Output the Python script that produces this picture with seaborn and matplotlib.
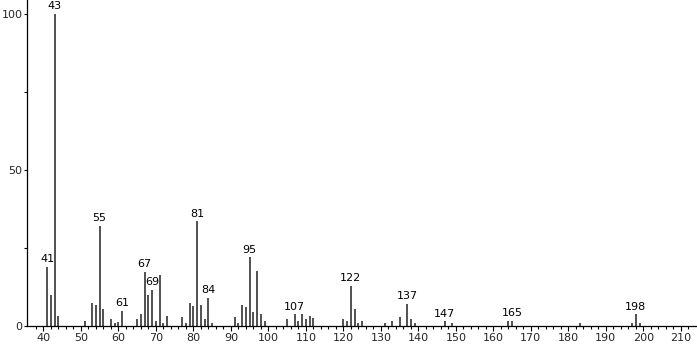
import matplotlib
matplotlib.use("Agg")
import matplotlib.pyplot as plt
import seaborn as sns
import numpy as np

# m/z values and relative intensities
mz = [41, 42, 43, 44, 51, 53, 54, 55, 56, 58, 59, 60, 61,
      65, 66, 67, 68, 69, 70, 71, 72, 73,
      77, 78, 79, 80, 81, 82, 83, 84, 85,
      91, 92, 93, 94, 95, 96, 97, 98, 99,
      105, 107, 108, 109, 110, 111, 112,
      120, 121, 122, 123, 124, 125,
      131, 133, 135, 137, 138, 139,
      147, 149, 164, 165, 183, 197, 198, 199]
intensity = [19.0, 10.0, 100.0, 3.2, 1.7, 7.5, 6.7, 32.0, 5.6, 2.1, 1.1, 1.2, 4.9,
             2.2, 3.8, 17.3, 10.0, 11.5, 1.7, 16.2, 0.9, 3.3,
             2.8, 0.9, 7.5, 6.3, 33.5, 6.8, 2.2, 8.9, 1.1,
             2.8, 0.9, 6.7, 6.0, 22.0, 4.4, 17.6, 3.7, 1.7,
             2.1, 3.7, 1.6, 3.7, 2.2, 3.2, 2.7,
             2.1, 1.6, 12.8, 5.3, 1.1, 1.7,
             0.9, 1.6, 2.8, 7.1, 2.1, 0.9,
             1.5, 1.0, 1.5, 1.7, 0.9, 1.1, 3.7, 0.9]
labeled_mz = [41, 43, 55, 61, 67, 69, 81, 84, 95, 107, 122, 137, 147, 165, 198]
y_ticks = [0, 50, 100]
x_ticks = list(range(40, 211, 10))

sns.set_style("ticks")
plt.rcParams['font.family'] = ['DejaVu Sans']

fig = plt.figure(figsize=(6.97, 3.45), dpi=100)
ax = fig.add_axes([27 / 697, 19 / 345, 670 / 697, 326 / 345])

ax.vlines(mz, 0, intensity, colors="#222222", linewidth=1.1)

lookup = dict(zip(mz, intensity))
for m in labeled_mz:
    ax.annotate(str(m), xy=(m, lookup[m]), xytext=(0, 2), textcoords="offset points",
                ha="center", va="bottom", fontsize=8, color="black")

ax.set_xlim(35.65, 214.3)
ax.set_ylim(0, 104.5)
ax.set_xticks(x_ticks)
ax.set_xticks(np.arange(38, 214, 2), minor=True)
ax.set_yticks(y_ticks)
ax.set_yticks([25, 75], minor=True)
ax.tick_params(axis="x", which="major", labelsize=8, length=3.6, width=0.8, color="black", pad=1.5)
ax.tick_params(axis="x", which="minor", length=2.2, width=0.8, color="black")
ax.tick_params(axis="y", which="both", labelsize=8, length=2.2, width=0.8, color="black", pad=1)
for s in ["top", "right"]:
    ax.spines[s].set_visible(False)
for s in ["left", "bottom"]:
    ax.spines[s].set_color("black")
    ax.spines[s].set_linewidth(0.9)

fig.savefig("out.png", dpi=100)
